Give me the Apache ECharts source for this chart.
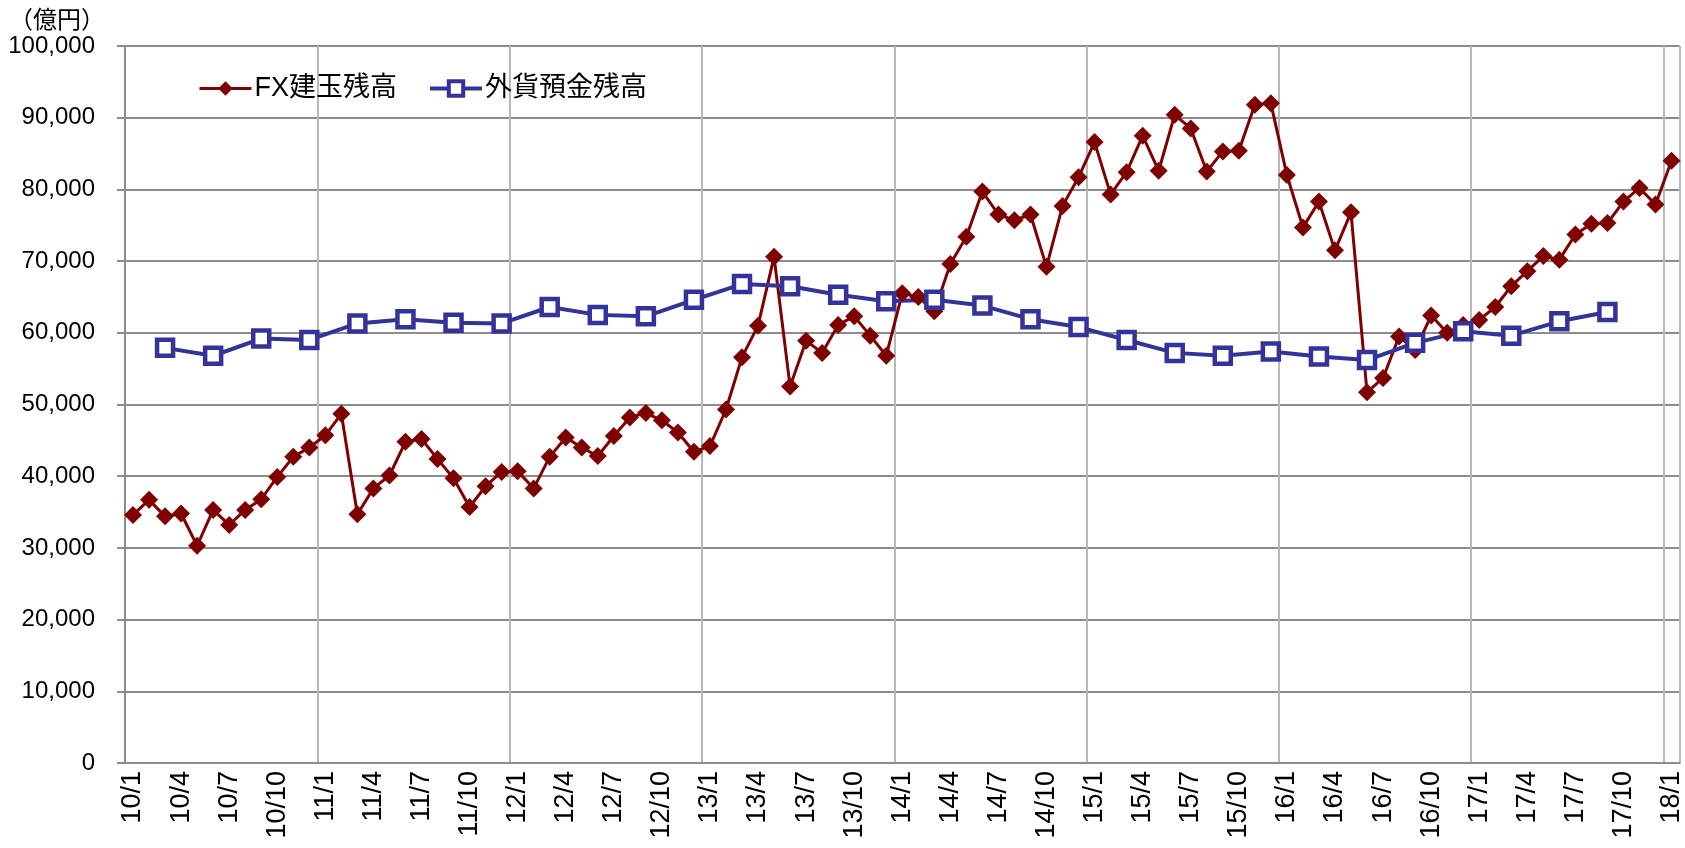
<!DOCTYPE html>
<html>
<head>
<meta charset="utf-8">
<script src="https://cdn.jsdelivr.net/npm/echarts@6/dist/echarts.min.js"></script>
<style>
  html, body { margin: 0; padding: 0; background: #fff; }
  #chart { width: 1685px; height: 848px; }
</style>
</head>
<body>
<div id="chart"></div>
<script>
// months 10/1 .. 18/1
const months = []
for (let y = 10; y <= 17; y++) {
  for (let m = 1; m <= 12; m++) months.push(y + '/' + m)
}
months.push('18/1')

// FX建玉残高 (monthly, 億円)
const fxValues = [
  34600, 36700, 34400, 34800, 30300, 35300, 33200, 35300, 36800, 39900, 42700, 44000,
  45700, 48700, 34700, 38300, 40100, 44800, 45200, 42400, 39700, 35700, 38600, 40600,
  40700, 38300, 42700, 45400, 44000, 42800, 45600, 48200, 48800, 47800, 46100, 43400,
  44200, 49300, 56600, 61000, 70600, 52500, 58900, 57200, 61100, 62300, 59600, 56800,
  65500, 65000, 63000, 69600, 73400, 79700, 76500, 75700, 76500, 69200, 77700, 81700,
  86600, 79300, 82400, 87500, 82600, 90400, 88500, 82500, 85300, 85400, 91800, 92000,
  82000, 74700, 78300, 71500, 76800, 51700, 53700, 59500, 57600, 62400, 60000, 61100,
  61800, 63600, 66500, 68600, 70700, 70200, 73700, 75200, 75300, 78300, 80200, 77900,
  84000
]

// 外貨預金残高 (quarterly)
const depositMonths = [
  '10/3', '10/6', '10/9', '10/12', '11/3', '11/6', '11/9', '11/12',
  '12/3', '12/6', '12/9', '12/12', '13/3', '13/6', '13/9', '13/12',
  '14/3', '14/6', '14/9', '14/12', '15/3', '15/6', '15/9', '15/12',
  '16/3', '16/6', '16/9', '16/12', '17/3', '17/6', '17/9'
]
const depositValues = [
  57900, 56800, 59200, 59000, 61300, 61900, 61400, 61300,
  63600, 62500, 62300, 64600, 66800, 66500, 65300, 64400,
  64600, 63800, 61900, 60800, 59000, 57200, 56800, 57400,
  56700, 56200, 58600, 60200, 59600, 61600, 62900
]

const FONT = '"Liberation Sans", Arial, "Noto Sans CJK JP", sans-serif'
const RED = '#7f0000'
const BLUE = '#333399'

const chart = echarts.init(document.getElementById('chart'))
chart.setOption({
  animation: false,
  textStyle: { fontFamily: FONT, color: '#000' },
  title: {
    text: '（億円）',
    left: 4,
    top: 4,
    textStyle: { fontSize: 24, fontWeight: 'normal', color: '#000', fontFamily: FONT }
  },
  legend: {
    left: 193,
    top: 70,
    itemWidth: 52,
    itemHeight: 18,
    itemGap: 31,
    textStyle: { fontSize: 27, color: '#000', fontFamily: FONT, padding: [0, 0, 0, -2] },
    data: [
      { name: 'FX建玉残高', lineStyle: { width: 3 } },
      { name: '外貨預金残高', lineStyle: { width: 4 }, itemStyle: { borderWidth: 4 } }
    ]
  },
  grid: { left: 125, right: 0, top: 46, bottom: 85, containLabel: false },
  xAxis: {
    type: 'category',
    data: months,
    boundaryGap: true,
    axisLine: { lineStyle: { color: '#8c8c8c', width: 2 } },
    axisTick: {
      interval: (i) => i % 24 === 0,
      length: 10,
      lineStyle: { color: '#8c8c8c', width: 2 }
    },
    axisLabel: {
      interval: (i) => i % 3 === 0,
      rotate: 90,
      margin: 8,
      fontSize: 27,
      color: '#000'
    },
    splitLine: {
      show: true,
      interval: (i) => i % 12 === 0,
      lineStyle: { color: '#b8b8b8', width: 2 }
    }
  },
  yAxis: {
    type: 'value',
    min: 0,
    max: 100000,
    interval: 10000,
    axisLine: { show: true, lineStyle: { color: '#8c8c8c', width: 2 } },
    axisTick: { show: true, length: 8, lineStyle: { color: '#8c8c8c', width: 2 } },
    axisLabel: {
      margin: 30,
      fontSize: 24,
      color: '#000',
      formatter: (v) => v.toLocaleString('en-US')
    },
    splitLine: { lineStyle: { color: '#8c8c8c', width: 2 } }
  },
  series: [
    {
      name: 'FX建玉残高',
      type: 'line',
      data: fxValues,
      showAllSymbol: true,
      symbol: 'diamond',
      symbolSize: 18,
      lineStyle: { color: RED, width: 3 },
      itemStyle: { color: RED }
    },
    {
      name: '外貨預金残高',
      type: 'line',
      data: depositMonths.map((m, i) => [m, depositValues[i]]),
      showAllSymbol: true,
      symbol: 'rect',
      symbolSize: 16,
      lineStyle: { color: BLUE, width: 4 },
      itemStyle: { color: '#fff', borderColor: BLUE, borderWidth: 4.5 }
    }
  ]
})
</script>
</body>
</html>
